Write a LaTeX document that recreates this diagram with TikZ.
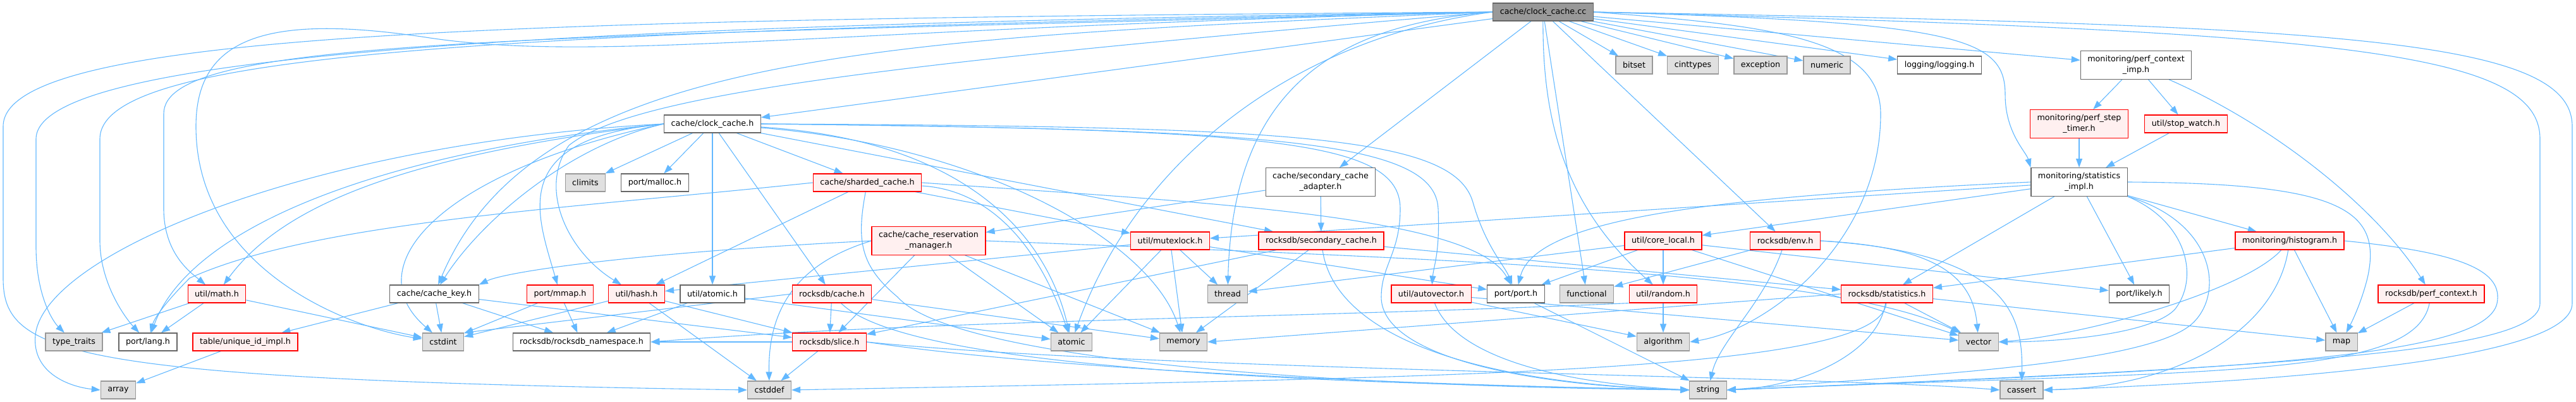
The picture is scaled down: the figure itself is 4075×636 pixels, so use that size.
\documentclass[tikz,border=0pt]{standalone}
\usepackage{fontspec}
\setmainfont{DejaVu Sans}
\usetikzlibrary{arrows.meta,backgrounds}
\definecolor{EdgeBlue}{HTML}{63B8FF}
\definecolor{GreyFill}{HTML}{E0E0E0}
\definecolor{GreyLine}{HTML}{999999}
\definecolor{DarkLine}{HTML}{666666}
\definecolor{RootFill}{HTML}{999999}
\definecolor{TruncFill}{HTML}{FFF0F0}
\definecolor{TruncLine}{HTML}{FF0000}

\begin{document}
\begin{tikzpicture}[
x=1pt,y=-1pt,
dotnode/.style={draw,line width=1.2pt,align=center,inner xsep=11pt,inner ysep=7.5pt,minimum height=28pt,font=\fontsize{12.7}{17}\selectfont},
box/.style={dotnode,draw=DarkLine,fill=white},
sysbox/.style={dotnode,draw=GreyLine,fill=GreyFill},
redbox/.style={dotnode,draw=TruncLine,fill=TruncFill},
rootbox/.style={dotnode,draw=DarkLine,fill=RootFill},
arrow/.style={-{Triangle[length=14pt,width=10pt]},line width=1.1pt,draw=EdgeBlue}
]
\useasboundingbox (0,0) rectangle (4075,636);

% rows from top to bottom
\node[rootbox] (cc) at (2441,19) {cache/clock\_cache.cc};

\node[sysbox] (bitset) at (2585,103) {bitset};
\node[sysbox] (cinttypes) at (2678,103) {cinttypes};
\node[sysbox] (exception) at (2785,103) {exception};
\node[sysbox] (numeric) at (2890,103) {numeric};
\node[box] (logging) at (3068,103) {logging/logging.h};
\node[box] (pcimp) at (3379,103) {monitoring/perf\_context\\\_imp.h};

\node[box] (ch) at (1127,196) {cache/clock\_cache.h};
\node[redbox] (pstep) at (3289,196) {monitoring/perf\_step\\\_timer.h};
\node[redbox] (stopw) at (3458,196) {util/stop\_watch.h};

\node[sysbox] (climits) at (926,289) {climits};
\node[box] (malloc) at (1036,289) {port/malloc.h};
\node[redbox] (sharded) at (1372,289) {cache/sharded\_cache.h};
\node[box] (secadapt) at (2089,288) {cache/secondary\_cache\\\_adapter.h};
\node[box] (statimpl) at (3289,288) {monitoring/statistics\\\_impl.h};

\node[redbox] (crm) at (1469,381) {cache/cache\_reservation\\\_manager.h};
\node[redbox] (mutex) at (1851,381) {util/mutexlock.h};
\node[redbox] (seccache) at (2090,381) {rocksdb/secondary\_cache.h};
\node[redbox] (corel) at (2631,381) {util/core\_local.h};
\node[redbox] (env) at (2824,381) {rocksdb/env.h};
\node[redbox] (histo) at (3622,381) {monitoring/histogram.h};

\node[redbox] (math) at (343,465) {util/math.h};
\node[box] (ckey) at (687,465) {cache/cache\_key.h};
\node[redbox] (mmap) at (886,465) {port/mmap.h};
\node[redbox] (hash) at (1007,465) {util/hash.h};
\node[box] (uatomic) at (1127,465) {util/atomic.h};
\node[redbox] (rcache) at (1316,465) {rocksdb/cache.h};
\node[sysbox] (thread) at (1942,465) {thread};
\node[redbox] (autovec) at (2264,465) {util/autovector.h};
\node[box] (port) at (2398,465) {port/port.h};
\node[sysbox] (functional) at (2510,465) {functional};
\node[redbox] (random) at (2631,465) {util/random.h};
\node[redbox] (stats) at (2985,465) {rocksdb/statistics.h};
\node[box] (likely) at (3384,465) {port/likely.h};
\node[redbox] (perfctx) at (3846,465) {rocksdb/perf\_context.h};

\node[sysbox] (typetraits) at (117,541) {type\_traits};
\node[box] (lang) at (234,541) {port/lang.h};
\node[redbox] (uid) at (388,541) {table/unique\_id\_impl.h};
\node[sysbox] (cstdint) at (701,541) {cstdint};
\node[box] (ns) at (920,541) {rocksdb/rocksdb\_namespace.h};
\node[redbox] (slice) at (1312,541) {rocksdb/slice.h};
\node[sysbox] (atomic) at (1695,541) {atomic};
\node[sysbox] (memory) at (1872,541) {memory};
\node[sysbox] (algorithm) at (2631,541) {algorithm};
\node[sysbox] (vector) at (3130,541) {vector};
\node[sysbox] (map) at (3704,541) {map};

\node[sysbox] (array) at (187,617) {array};
\node[sysbox] (cstddef) at (1217,617) {cstddef};
\node[sysbox] (string) at (2702,617) {string};
\node[sysbox] (cassert) at (3198,617) {cassert};

\begin{scope}[on background layer]
% cache/clock_cache.cc
\draw[arrow] (cc) -- (ch);
\draw[arrow] (cc) -- (bitset);
\draw[arrow] (cc) -- (cinttypes);
\draw[arrow] (cc) -- (exception);
\draw[arrow] (cc) -- (numeric);
\draw[arrow] (cc) -- (logging);
\draw[arrow] (cc) -- (pcimp);
\draw[arrow] (cc) -- (secadapt);
\draw[arrow] (cc) -- (env);
\draw[arrow] (cc) -- (functional);
\draw[arrow] (cc) .. controls (2440,200) and (2480,330) .. (random);
\draw[arrow] (cc.east) .. controls (3100,35) and (3172,60) .. (3172,150) .. controls (3172,210) and (3205,240) .. (statimpl.north west);
\draw[arrow] (cc.east) .. controls (2800,40) and (2975,60) .. (2975,180) .. controls (2975,380) and (2800,520) .. (algorithm.east);
\draw[arrow] (cc.west) .. controls (2100,40) and (1950,150) .. (thread);
\draw[arrow] (cc.west) .. controls (2050,60) and (1800,250) .. (atomic);
\draw[arrow] (cc.west) .. controls (1400,60) and (850,80) .. (ckey);
\draw[arrow] (cc.west) .. controls (1400,100) and (1000,150) .. (900,230) .. controls (850,300) and (900,400) .. (hash);
\draw[arrow] (cc.west) .. controls (1300,45) and (950,100) .. (680,60) .. controls (420,20) and (310,60) .. (310,200) .. controls (310,430) and (560,520) .. (cstdint);
\draw[arrow] (cc.west) .. controls (800,60) and (259,60) .. (259,180) -- (259,330) .. controls (259,400) and (300,430) .. (math);
\draw[arrow] (cc.west) .. controls (800,50) and (158,80) .. (158,220) -- (158,380) .. controls (158,450) and (200,505) .. (lang);
\draw[arrow] (cc.west) .. controls (800,40) and (57,90) .. (57,220) -- (57,390) .. controls (57,470) and (85,510) .. (typetraits);
\draw[arrow] (cc.west) .. controls (800,30) and (5,50) .. (5,200) -- (5,440) .. controls (5,560) and (100,600) .. (cstddef.west);
\draw[arrow] (cc.east) .. controls (3700,40) and (4069,60) .. (4069,200) -- (4069,480) .. controls (4069,560) and (3700,600) .. (cassert.east);
\draw[arrow] (cc.east) .. controls (3700,50) and (4018,80) .. (4018,220) -- (4018,480) .. controls (4018,560) and (3600,580) .. (string.east);

% cache/clock_cache.h
\draw[arrow] (ch) -- (climits);
\draw[arrow] (ch) -- (malloc);
\draw[arrow] (ch) -- (sharded);
\draw[arrow] (ch) -- (uatomic);
\draw[arrow] (ch) -- (rcache);
\draw[arrow] (ch) -- (seccache);
\draw[arrow] (ch.west) .. controls (900,230) and (760,350) .. (ckey);
\draw[arrow] (ch.west) .. controls (800,220) and (850,340) .. (mmap);
\draw[arrow] (ch.west) .. controls (650,245) and (450,320) .. (math);
\draw[arrow] (ch.west) .. controls (600,240) and (300,360) .. (lang);
\draw[arrow] (ch.west) .. controls (700,270) and (560,420) .. (cstdint);
\draw[arrow] (ch.west) .. controls (500,225) and (70,400) .. (56,530) .. controls (50,590) and (110,612) .. (array.west);
\draw[arrow] (ch) .. controls (1500,220) and (1650,350) .. (atomic);
\draw[arrow] (ch) .. controls (1550,230) and (1820,380) .. (memory);
\draw[arrow] (ch.east) .. controls (2000,205) and (2270,220) .. (2275,330) .. controls (2278,400) and (2268,420) .. (autovec);
\draw[arrow] (ch.east) .. controls (2050,200) and (2300,215) .. (2330,320) .. controls (2350,390) and (2380,420) .. (port);
\draw[arrow] (ch.east) .. controls (2000,205) and (2215,220) .. (2215,330) .. controls (2215,400) and (2185,420) .. (2185,470) .. controls (2185,560) and (2400,610) .. (string.west);

% cache/sharded_cache.h
\draw[arrow] (sharded) -- (hash);
\draw[arrow] (sharded) -- (mutex);
\draw[arrow] (sharded.west) .. controls (900,330) and (500,350) .. (300,440) .. controls (270,470) and (245,500) .. (lang);
\draw[arrow] (sharded.east) .. controls (1900,320) and (2330,340) .. (port);
\draw[arrow] (sharded) .. controls (1560,300) and (1640,380) .. (atomic);
\draw[arrow] (sharded) .. controls (1355,380) and (1360,420) .. (1420,470) .. controls (1500,560) and (2000,610) .. (string.west);

% cache/cache_reservation_manager.h
\draw[arrow] (crm.west) .. controls (1000,400) and (800,430) .. (ckey.north east);
\draw[arrow] (crm) -- (slice);
\draw[arrow] (crm) -- (atomic);
\draw[arrow] (crm) -- (memory);
\draw[arrow] (crm.west) .. controls (1250,420) and (1215,500) .. (cstddef);
\draw[arrow] (crm.east) .. controls (2300,410) and (2900,430) .. (vector);

% util/mutexlock.h
\draw[arrow] (mutex) -- (atomic);
\draw[arrow] (mutex) -- (memory);
\draw[arrow] (mutex) -- (thread);
\draw[arrow] (mutex) -- (hash);
\draw[arrow] (mutex) -- (port);

% secondary cache
\draw[arrow] (secadapt) -- (crm);
\draw[arrow] (secadapt) -- (seccache);
\draw[arrow] (seccache) -- (stats);
\draw[arrow] (seccache) -- (memory);
\draw[arrow] (seccache) -- (slice);
\draw[arrow] (seccache) .. controls (2110,520) and (2300,605) .. (string.west);

% util/core_local.h, util/random.h, util/autovector.h
\draw[arrow] (corel) -- (port);
\draw[arrow] (corel) -- (random);
\draw[arrow] (corel) -- (thread);
\draw[arrow] (corel) -- (vector);
\draw[arrow] (corel) -- (likely);
\draw[arrow] (random) -- (algorithm);
\draw[arrow] (random.south west) .. controls (2000,505) and (1500,505) .. (ns.east);
\draw[arrow] (autovec) -- (algorithm);
\draw[arrow] (autovec) -- (vector);
\draw[arrow] (autovec) .. controls (2300,560) and (2450,605) .. (string.west);
\draw[arrow] (port) -- (string);

% rocksdb/env.h
\draw[arrow] (env) -- (functional);
\draw[arrow] (env.east) .. controls (3050,390) and (3120,430) .. (vector);
\draw[arrow] (env.east) .. controls (3180,400) and (3200,500) .. (cassert);
\draw[arrow] (env) .. controls (2790,480) and (2720,540) .. (string);

% rocksdb/statistics.h
\draw[arrow] (stats) -- (vector);
\draw[arrow] (stats) -- (map);
\draw[arrow] (stats.west) -- (memory.east);
\draw[arrow] (stats) .. controls (2970,560) and (2850,612) .. (string.east);
\draw[arrow] (stats) .. controls (2975,590) and (2300,597) .. (cstddef.east);

% monitoring/statistics_impl.h
\draw[arrow] (statimpl) -- (stats);
\draw[arrow] (statimpl) -- (likely);
\draw[arrow] (statimpl) -- (histo);
\draw[arrow] (statimpl) -- (corel);
\draw[arrow] (statimpl) -- (mutex);
\draw[arrow] (statimpl.west) .. controls (2750,310) and (2430,340) .. (port);
\draw[arrow] (statimpl.east) .. controls (3700,290) and (3770,330) .. (3745,440) .. controls (3735,480) and (3720,510) .. (map);
\draw[arrow] (statimpl.south east) .. controls (3460,350) and (3480,440) .. (3440,490) .. controls (3400,530) and (3250,541) .. (vector.east);
\draw[arrow] (statimpl.south east) .. controls (3500,350) and (3520,460) .. (3470,510) .. controls (3400,580) and (3000,595) .. (string.east);

% monitoring/histogram.h
\draw[arrow] (histo) -- (stats);
\draw[arrow] (histo) -- (map);
\draw[arrow] (histo) .. controls (3550,460) and (3300,530) .. (vector.east);
\draw[arrow] (histo) .. controls (3600,520) and (3450,612) .. (cassert.east);
\draw[arrow] (histo.east) .. controls (3900,400) and (3960,430) .. (3950,480) .. controls (3930,570) and (3500,585) .. (string.east);

% perf context
\draw[arrow] (pcimp) -- (pstep);
\draw[arrow] (pcimp) -- (stopw);
\draw[arrow] (pcimp) .. controls (3600,200) and (3760,330) .. (perfctx);
\draw[arrow] (pstep) -- (statimpl);
\draw[arrow] (stopw) -- (statimpl);
\draw[arrow] (perfctx) -- (map);
\draw[arrow] (perfctx) .. controls (3820,600) and (3500,585) .. (string.east);

% small headers
\draw[arrow] (math) -- (typetraits);
\draw[arrow] (math) -- (lang);
\draw[arrow] (math) -- (cstdint);
\draw[arrow] (uid) -- (array);
\draw[arrow] (ckey) -- (uid);
\draw[arrow] (ckey) -- (cstdint);
\draw[arrow] (ckey) -- (ns);
\draw[arrow] (ckey) -- (slice);
\draw[arrow] (mmap) -- (cstdint);
\draw[arrow] (mmap) -- (ns);
\draw[arrow] (hash) -- (cstdint);
\draw[arrow] (hash) -- (cstddef);
\draw[arrow] (hash) -- (slice);
\draw[arrow] (uatomic) -- (ns);
\draw[arrow] (uatomic) -- (atomic);
\draw[arrow] (rcache) -- (slice);
\draw[arrow] (rcache.west) -- (cstdint.north east);
\draw[arrow] (rcache) -- (memory);
\draw[arrow] (rcache) .. controls (1450,600) and (2300,608) .. (string.west);
\draw[arrow] (slice) -- (cstddef);
\draw[arrow] (slice) -- (ns);
\draw[arrow] (slice.east) .. controls (1700,590) and (2300,610) .. (string.west);
\draw[arrow] (slice.east) .. controls (1800,585) and (2900,595) .. (cassert.west);
\end{scope}
\end{tikzpicture}
\end{document}
